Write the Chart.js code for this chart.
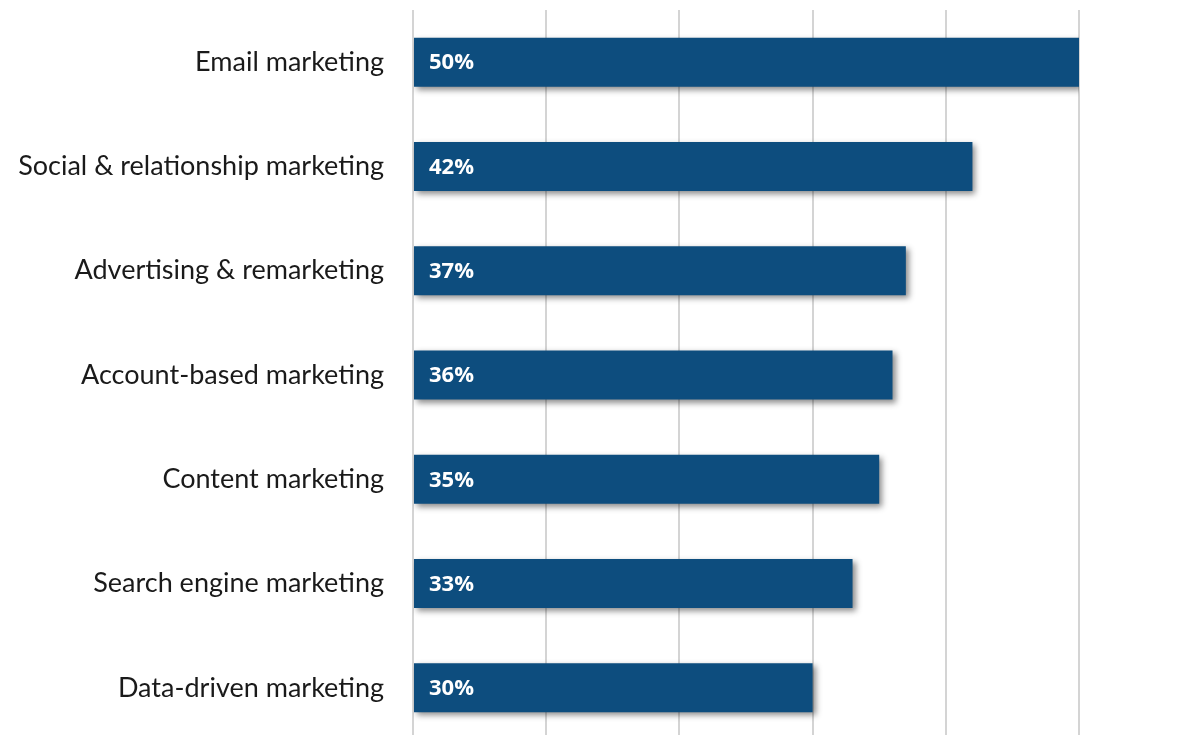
<!DOCTYPE html>
<html>
<head>
<meta charset="utf-8">
<script src="https://cdn.jsdelivr.net/npm/chart.js@4/dist/chart.umd.min.js"></script>
<style>
  html, body { margin: 0; padding: 0; background: #fff; overflow: hidden; }
  #wrap { width: 1194px; height: 745px; position: relative; }
</style>
</head>
<body>
<div id="wrap"><canvas id="myChart"></canvas></div>
<script>
const channels = [
  'Email marketing',
  'Social & relationship marketing',
  'Advertising & remarketing',
  'Account-based marketing',
  'Content marketing',
  'Search engine marketing',
  'Data-driven marketing'
];
const shares = [50, 42, 37, 36, 35, 33, 30];
const axisMax = 50;

// soft drop shadow under the bars
const barShadow = {
  id: 'barShadow',
  beforeDatasetsDraw(chart) {
    const ctx = chart.ctx;
    ctx.save();
    ctx.shadowColor = 'rgba(0,0,0,0.45)';
    ctx.shadowBlur = 6;
    ctx.shadowOffsetX = 3;
    ctx.shadowOffsetY = 3;
  },
  afterDatasetsDraw(chart) {
    chart.ctx.restore();
  }
};

// white percentage labels at the start of every bar
const valueLabels = {
  id: 'valueLabels',
  afterDatasetsDraw(chart) {
    const ctx = chart.ctx;
    const meta = chart.getDatasetMeta(0);
    ctx.save();
    ctx.fillStyle = '#ffffff';
    ctx.font = 'bold 22px "Open Sans", sans-serif';
    ctx.textAlign = 'left';
    ctx.textBaseline = 'middle';
    meta.data.forEach((bar, i) => {
      ctx.fillText(shares[i] + '%', bar.base + 15, bar.y + 1);
    });
    ctx.restore();
  }
};

const ctx = document.getElementById('myChart').getContext('2d');
new Chart(ctx, {
  type: 'bar',
  data: {
    labels: channels,
    datasets: [{
      data: shares,
      backgroundColor: '#0d4d7e',
      barPercentage: 0.47,
      categoryPercentage: 1
    }]
  },
  options: {
    indexAxis: 'y',
    responsive: true,
    maintainAspectRatio: false,
    animation: false,
    layout: { padding: { top: 10, right: 115, bottom: 5, left: 0 } },
    plugins: {
      legend: { display: false },
      tooltip: { enabled: false }
    },
    scales: {
      x: {
        min: 0,
        max: axisMax,
        ticks: { display: false, stepSize: 10 },
        grid: { color: '#d4d4d4', lineWidth: 2, drawTicks: false },
        border: { display: false },
        afterFit(scale) { scale.height = 0; }
      },
      y: {
        ticks: {
          color: '#1a1a1a',
          padding: 29,
          font: { family: 'Lato, "Open Sans", sans-serif', size: 27 }
        },
        grid: { display: false, drawTicks: false },
        border: { display: false },
        afterFit(scale) {
          scale.width = 413;
          scale.paddingTop = 0;
          scale.paddingBottom = 0;
        }
      }
    }
  },
  plugins: [barShadow, valueLabels]
});
</script>
</body>
</html>
